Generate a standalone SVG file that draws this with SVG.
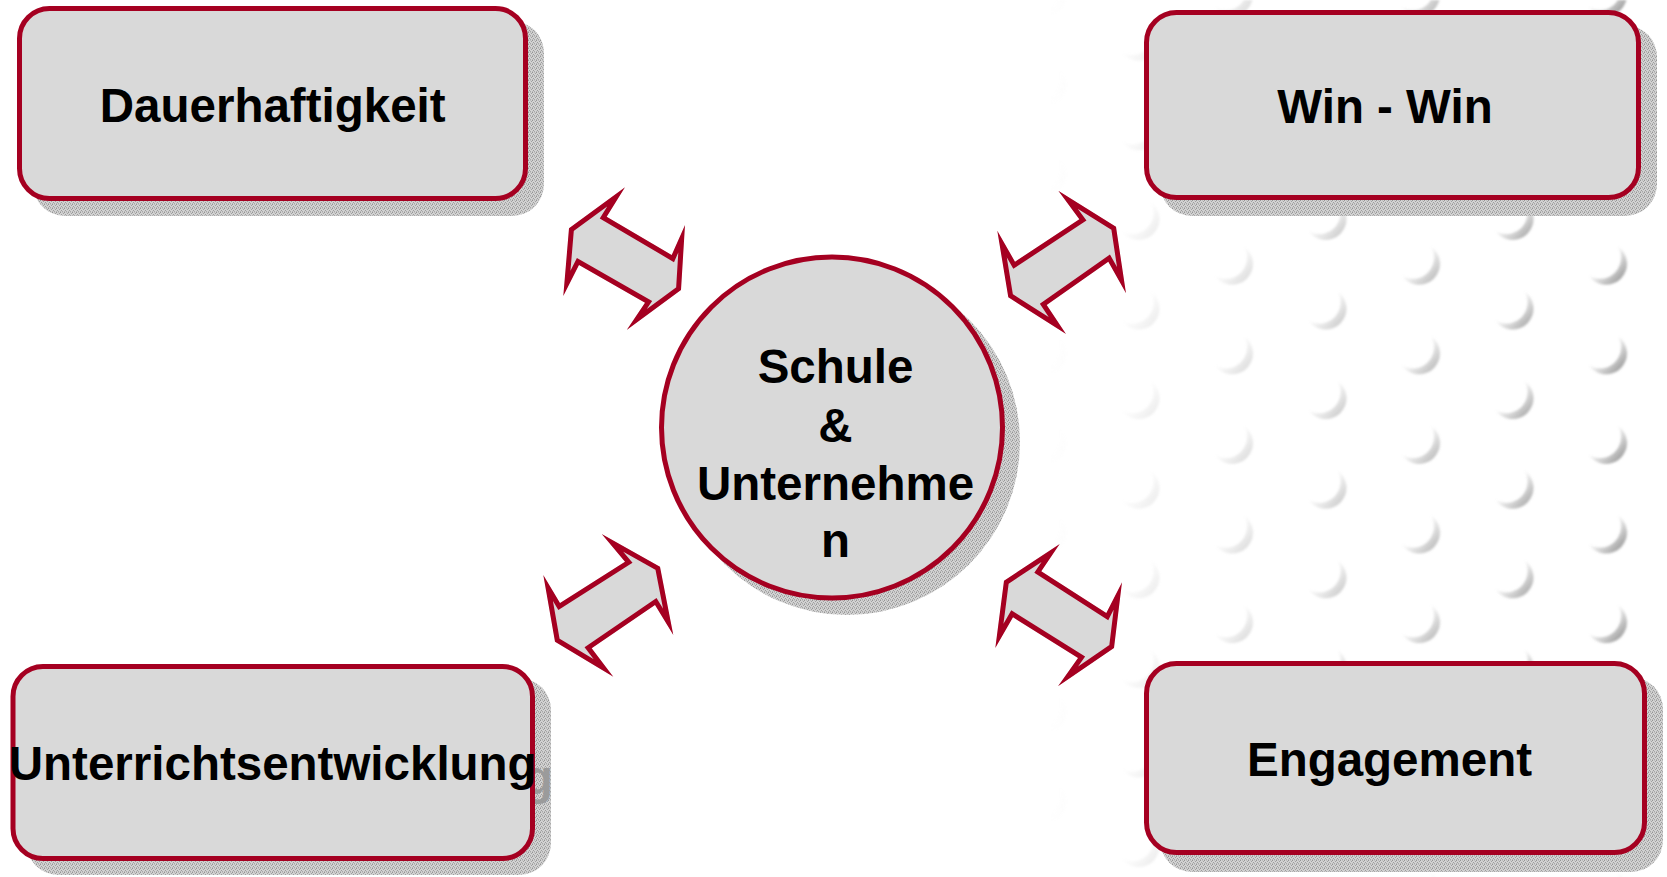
<svg xmlns="http://www.w3.org/2000/svg" xmlns:xlink="http://www.w3.org/1999/xlink" width="1667" height="877" viewBox="0 0 1667 877">
<style>
.box{fill:#D9D9D9;stroke:#A50021;stroke-width:5}
.shadow{fill:url(#dither)}
.lbl{font-family:"Liberation Sans",Arial,Helvetica,sans-serif;font-weight:bold;font-size:47.5px;fill:#000;text-anchor:middle}
.ghost{font-family:"Liberation Sans",Arial,Helvetica,sans-serif;font-weight:bold;font-size:47.5px;fill:#9b9b9b}
.arrow{fill:#D9D9D9;stroke:#A50021;stroke-width:10;stroke-linejoin:miter}
</style>
<defs>
<pattern id="dither" width="4" height="4" patternUnits="userSpaceOnUse">
<rect width="4" height="4" fill="#d2d2d2"/>
<rect x="0" y="0" width="1" height="1" fill="#959595"/>
<rect x="3" y="1" width="1" height="1" fill="#a0a0a0"/>
<rect x="1" y="2" width="1" height="1" fill="#9c9c9c"/>
<rect x="2" y="3" width="1" height="1" fill="#a8a8a8"/>
<rect x="2" y="0" width="1" height="1" fill="#bdbdbd"/>
<rect x="0" y="3" width="1" height="1" fill="#b5b5b5"/>
</pattern>
<linearGradient id="cg" x1="0" y1="0" x2="1" y2="1">
<stop offset="0.38" stop-color="#a0a0a0" stop-opacity="0"/>
<stop offset="0.85" stop-color="#a0a0a0" stop-opacity="1"/>
</linearGradient>
<path id="cres" d="M11.55 -17.55 A21 21 0 1 1 -17.55 11.55 A21 21 0 0 0 11.55 -17.55 Z" fill="url(#cg)"/>
<pattern id="dots" width="187" height="89.6" patternUnits="userSpaceOnUse" patternTransform="translate(1138.5 443)">
<use xlink:href="#cres" x="93.5" y="0"/>
<use xlink:href="#cres" x="93.5" y="89.6"/>
<use xlink:href="#cres" x="0" y="44.8"/>
<use xlink:href="#cres" x="187" y="44.8"/>
</pattern>
<linearGradient id="fade" gradientUnits="userSpaceOnUse" x1="1050" y1="0" x2="1630" y2="0">
<stop offset="0" stop-color="#000"/>
<stop offset="1" stop-color="#fff"/>
</linearGradient>
<mask id="fadeMask" maskUnits="userSpaceOnUse" x="0" y="0" width="1667" height="877">
<rect x="0" y="0" width="1667" height="877" fill="url(#fade)"/>
</mask>
<filter id="soft" x="-5%" y="-5%" width="110%" height="110%">
<feGaussianBlur stdDeviation="1.2"/>
</filter>
<polygon id="a1" points="625,187.3 606.7,216.7 671.7,255 685,225 681,290 626.7,330 645,302.7 579,265 563.3,296 569,228.3"/>
<polygon id="a2" points="1058.3,190.7 1116,226.7 1126,293.3 1108.3,261.7 1046.7,305 1066,334 1008.3,297.3 997.3,230.7 1015,261.7 1079.3,219.3"/>
<polygon id="a3" points="601.7,534 625,561.7 560,603 543.3,575 555,641.7 613.3,676.7 591.7,648.3 655,605 673.3,635 660,566.7"/>
<polygon id="a4" points="1059.7,544 1041.3,571.3 1106.3,613 1122,582.3 1114,648 1058,686.3 1078,658 1013,617.3 995.3,648 1004,580.7"/>
<clipPath id="c1"><use xlink:href="#a1"/></clipPath>
<clipPath id="c2"><use xlink:href="#a2"/></clipPath>
<clipPath id="c3"><use xlink:href="#a3"/></clipPath>
<clipPath id="c4"><use xlink:href="#a4"/></clipPath>
</defs>
<rect x="0" y="0" width="1667" height="877" fill="#fff"/>
<g id="background" mask="url(#fadeMask)">
<rect x="1030" y="0" width="637" height="877" fill="url(#dots)" filter="url(#soft)"/>
</g>
<g id="node-dauerhaftigkeit">
<rect class="shadow" x="33" y="21" width="511" height="195" rx="32"/>
<rect class="box" x="19.5" y="8.5" width="506" height="190" rx="30"/>
<text class="lbl" x="272.7" y="122">Dauerhaftigkeit</text>
</g>
<g id="node-winwin">
<rect class="shadow" x="1160" y="25" width="497" height="191" rx="32"/>
<rect class="box" x="1146.5" y="12.5" width="492" height="185" rx="30"/>
<text class="lbl" x="1385" y="123">Win - Win</text>
</g>
<g id="node-unterricht">
<rect class="shadow" x="26.5" y="678" width="524.5" height="197" rx="32"/>
<text class="ghost" x="524" y="794">g</text>
<rect class="box" x="13" y="666.5" width="519.5" height="192" rx="30"/>
<text class="lbl" x="272.7" y="780">Unterrichtsentwicklung</text>
</g>
<g id="node-engagement">
<rect class="shadow" x="1160" y="677" width="503" height="195" rx="32"/>
<rect class="box" x="1146.5" y="663.5" width="498" height="189" rx="30"/>
<text class="lbl" x="1389.5" y="776">Engagement</text>
</g>
<g id="node-center">
<circle class="shadow" cx="847" cy="442" r="173"/>
<circle class="box" cx="832" cy="427.5" r="170.5"/>
<text class="lbl" x="835.5" y="383">Schule</text>
<text class="lbl" x="835.5" y="441.5">&amp;</text>
<text class="lbl" x="835.5" y="500">Unternehme</text>
<text class="lbl" x="835.5" y="557">n</text>
</g>
<g id="connectors">
<use xlink:href="#a1" class="arrow" clip-path="url(#c1)"/>
<use xlink:href="#a2" class="arrow" clip-path="url(#c2)"/>
<use xlink:href="#a3" class="arrow" clip-path="url(#c3)"/>
<use xlink:href="#a4" class="arrow" clip-path="url(#c4)"/>
</g>
</svg>
